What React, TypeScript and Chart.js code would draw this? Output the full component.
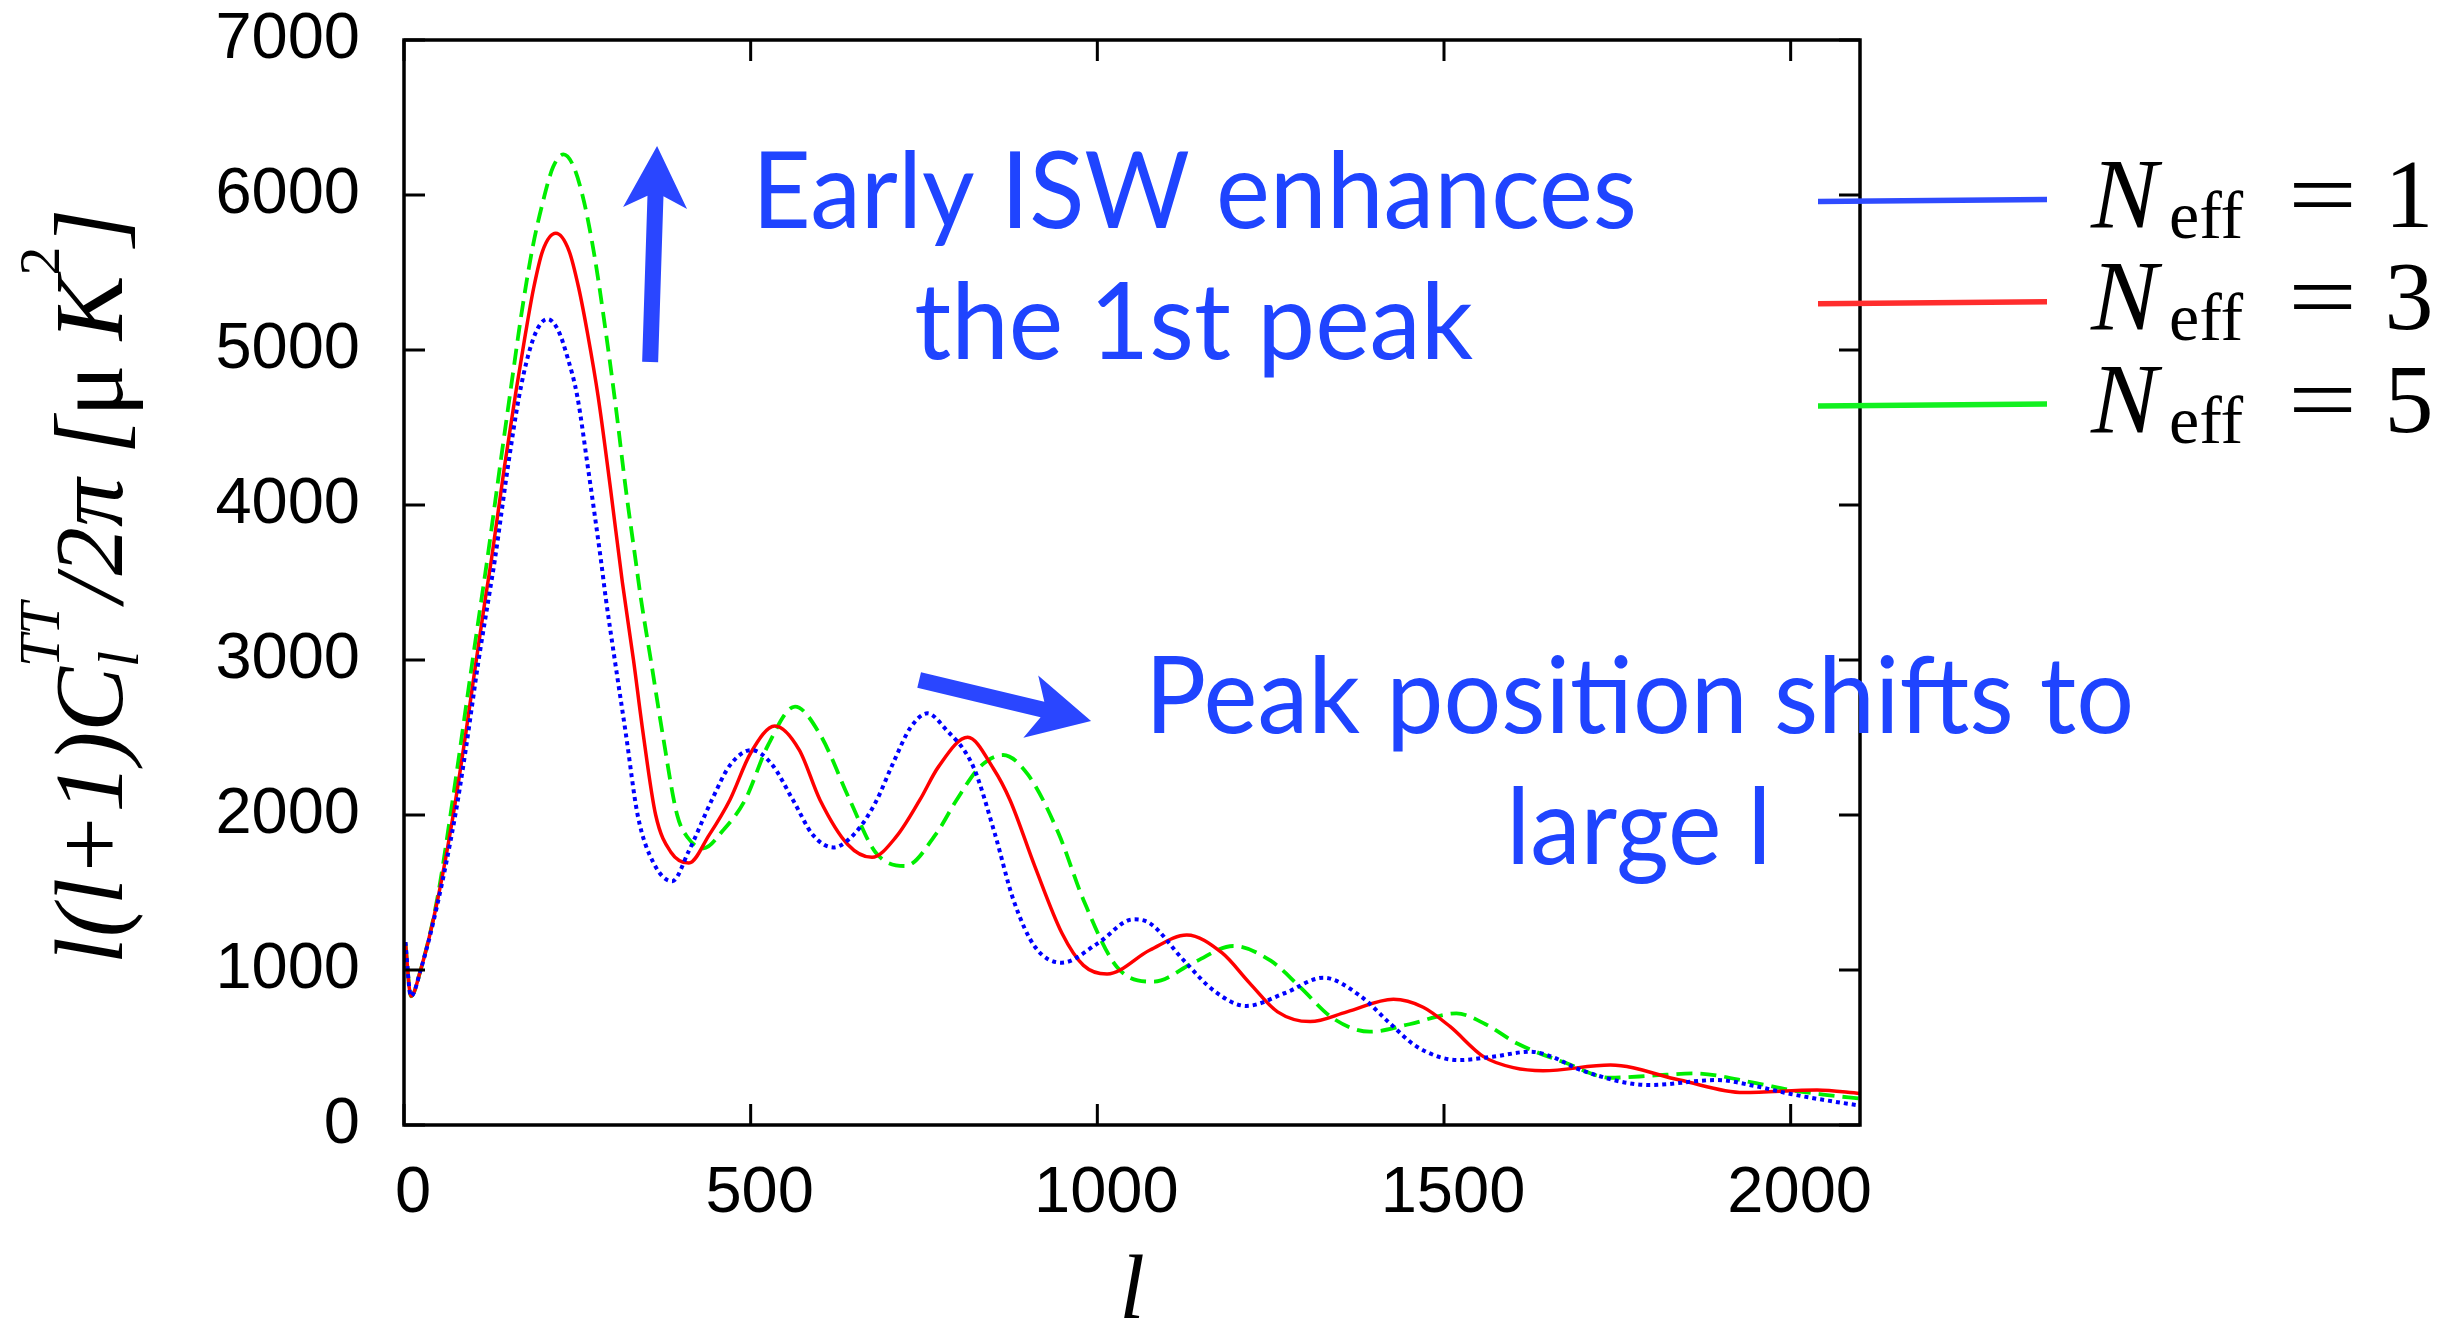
import React, { useEffect, useRef } from 'react';
import { Chart, registerables } from 'chart.js';

Chart.register(...registerables);

// ---------- data ----------
// multipole l and l(l+1)C_l/2pi [uK^2]
const L_NEFF1 = [2, 10, 24, 48, 74, 89, 107, 124, 131, 150, 166, 180, 193, 207, 222, 236, 250, 265, 284, 291, 304, 320, 337, 360, 387, 410, 444, 470, 501, 530, 561, 590, 619, 650, 680, 705, 730, 755, 780, 821, 852, 879, 910, 949, 1000, 1052, 1076, 1124, 1170, 1215, 1270, 1326, 1380, 1422, 1461, 1521, 1570, 1624, 1653, 1700, 1797, 1893, 1950, 2000, 2050, 2100];
const CL_NEFF1 = [1180, 830, 1000, 1420, 2000, 2420, 2980, 3450, 3645, 4250, 4700, 4980, 5140, 5200, 5130, 4950, 4700, 4250, 3645, 3400, 3000, 2523, 2000, 1690, 1573, 1760, 2097, 2320, 2419, 2330, 2097, 1870, 1791, 1880, 2080, 2330, 2560, 2656, 2560, 2312, 1882, 1452, 1150, 1047, 1170, 1327, 1301, 1065, 860, 768, 850, 950, 830, 656, 505, 419, 440, 473, 445, 350, 258, 290, 250, 200, 160, 125];

const L_NEFF3 = [2, 10, 24, 48, 71, 89, 102, 117, 126, 145, 161, 175, 187, 200, 219, 238, 252, 265, 280, 298, 315, 331, 345, 363, 385, 411, 440, 470, 500, 535, 570, 600, 640, 675, 710, 744, 771, 813, 850, 874, 910, 949, 980, 1014, 1076, 1129, 1180, 1220, 1260, 1307, 1360, 1427, 1470, 1509, 1557, 1600, 1643, 1740, 1840, 1932, 2038, 2100];
const CL_NEFF3 = [1180, 830, 1000, 1443, 2000, 2523, 2930, 3387, 3645, 4250, 4720, 5100, 5400, 5640, 5753, 5640, 5400, 5100, 4700, 4100, 3500, 3000, 2523, 2000, 1760, 1690, 1870, 2097, 2400, 2574, 2420, 2097, 1810, 1727, 1860, 2097, 2312, 2501, 2300, 2097, 1667, 1237, 1030, 974, 1129, 1226, 1110, 914, 730, 667, 730, 811, 760, 634, 441, 370, 350, 387, 290, 209, 226, 204];

const L_NEFF5 = [2, 10, 24, 48, 67, 99, 113, 120, 140, 155, 170, 185, 200, 215, 230, 245, 260, 275, 290, 305, 320, 334, 342, 356, 373, 394, 410, 432, 460, 492, 525, 564, 600, 643, 680, 723, 768, 797, 831, 864, 900, 944, 980, 1028, 1081, 1140, 1196, 1250, 1292, 1340, 1393, 1450, 1518, 1560, 1605, 1677, 1740, 1800, 1860, 1950, 2000, 2050, 2100];
const CL_NEFF5 = [1180, 830, 1000, 1460, 2000, 3000, 3430, 3645, 4300, 4780, 5250, 5650, 5950, 6180, 6262, 6180, 5950, 5600, 5150, 4650, 4100, 3645, 3387, 3000, 2523, 2000, 1850, 1785, 1900, 2097, 2450, 2699, 2520, 2097, 1760, 1671, 1882, 2097, 2312, 2387, 2260, 1882, 1452, 1021, 925, 1050, 1155, 1060, 892, 688, 602, 650, 720, 650, 527, 398, 305, 318, 333, 270, 225, 195, 170];

const SERIES_LABELS = ['1', '3', '5'];
const X_TICKS = [0, 500, 1000, 1500, 2000];
const Y_TICKS = [0, 1000, 2000, 3000, 4000, 5000, 6000, 7000];
const X_MIN = 0;
const X_MAX = 2100;
const Y_MIN = 0;
const Y_MAX = 7000;

// annotation anchors in data coordinates [l, value]
const NOTE_LINES = [
  { text: 'Early ISW enhances', at: [1140, 5787], width: 885 },
  { text: 'the 1st peak', at: [1139, 4942], width: 559 },
  { text: 'Peak position shifts to', at: [1782, 2529], width: 989 },
  { text: 'large l', at: [1781, 1681], width: 265 },
];
const ARROWS = [
  { from: [355, 4923], to: [365, 6316] },
  { from: [743, 2871], to: [991, 2606] },
];

// ---------- styles ----------
const SANS = '"Liberation Sans", Arial, Helvetica, sans-serif';
const SERIF = '"Liberation Serif", "Times New Roman", "DejaVu Serif", serif';
const NOTE_FONT = 'Lato, "Open Sans", "Noto Sans", sans-serif';
const NOTE_COLOR = '#1f44ff';
const ARROW_COLOR = '#2a46ff';
const LINE_COLORS = ['#0000ff', '#ff0000', '#00ee00'];
const LEGEND_COLORS = ['#2f4bff', '#ff2d2d', '#12f020'];
const TICK_LEN = 21;

function drawArrow(ctx: CanvasRenderingContext2D, x0: number, y0: number, x1: number, y1: number) {
  const dx = x1 - x0;
  const dy = y1 - y0;
  const len = Math.hypot(dx, dy);
  const ux = dx / len;
  const uy = dy / len;
  const px = -uy;
  const py = ux;
  const shaftHalf = 8;
  const headLen = 62;
  const notch = 12;
  const headHalf = 32;
  const P = (a: number, b: number) => [x0 + ux * a + px * b, y0 + uy * a + py * b];
  const pts = [
    P(0, -shaftHalf),
    P(len - headLen + notch, -shaftHalf),
    P(len - headLen, -headHalf),
    P(len, 0),
    P(len - headLen, headHalf),
    P(len - headLen + notch, shaftHalf),
    P(0, shaftHalf),
  ];
  ctx.beginPath();
  ctx.moveTo(pts[0][0], pts[0][1]);
  for (let i = 1; i < pts.length; i++) ctx.lineTo(pts[i][0], pts[i][1]);
  ctx.closePath();
  ctx.fillStyle = ARROW_COLOR;
  ctx.fill();
}

type Part = { t: string; f: string; dy: number } | { stack: { t: string; f: string; dy: number }[] };

function drawYTitle(ctx: CanvasRenderingContext2D, bx: number, cy: number) {
  const S = 97;
  const s = Math.round(S * 0.6);
  const it = `italic ${S}px ${SERIF}`;
  const up = `${S}px ${SERIF}`;
  const itS = `italic ${s}px ${SERIF}`;
  const upS = `${s}px ${SERIF}`;
  const raise = 63;
  const lower = 16;
  const parts: Part[] = [
    { t: 'l(l+1)', f: it, dy: 0 },
    { t: 'C', f: it, dy: 0 },
    { stack: [{ t: 'TT', f: itS, dy: -raise }, { t: 'l', f: itS, dy: lower }] },
    { t: '/2π', f: it, dy: 0 },
    { t: ' [', f: it, dy: 0 },
    { t: 'μ', f: up, dy: 0 },
    { t: ' K', f: it, dy: 0 },
    { t: '2', f: upS, dy: -raise },
    { t: ']', f: it, dy: 0 },
  ];
  const widths = parts.map((p) => {
    if ('stack' in p) {
      return Math.max(...p.stack.map((q) => { ctx.font = q.f; return ctx.measureText(q.t).width; }));
    }
    ctx.font = p.f;
    return ctx.measureText(p.t).width;
  });
  const total = widths.reduce((a, b) => a + b, 0);
  ctx.save();
  ctx.translate(bx, cy);
  ctx.rotate(-Math.PI / 2);
  ctx.fillStyle = '#000';
  ctx.textBaseline = 'alphabetic';
  ctx.textAlign = 'left';
  let u = -total / 2;
  parts.forEach((p, i) => {
    if ('stack' in p) {
      p.stack.forEach((q) => { ctx.font = q.f; ctx.fillText(q.t, u, q.dy); });
    } else {
      ctx.font = p.f;
      ctx.fillText(p.t, u, p.dy);
    }
    u += widths[i];
  });
  ctx.restore();
}

const decorPlugin = {
  id: 'decor',
  afterDatasetsDraw(chart: any) {
    const { ctx, chartArea: a, scales } = chart;
    const xs = scales.x;
    const ys = scales.y;
    ctx.save();
    ctx.strokeStyle = '#000';
    ctx.lineWidth = 3.5;
    ctx.strokeRect(a.left, a.top, a.right - a.left, a.bottom - a.top);
    ctx.lineWidth = 3;
    ctx.beginPath();
    for (const v of Y_TICKS) {
      const py = ys.getPixelForValue(v);
      ctx.moveTo(a.left, py); ctx.lineTo(a.left + TICK_LEN, py);
      ctx.moveTo(a.right, py); ctx.lineTo(a.right - TICK_LEN, py);
    }
    for (const v of X_TICKS) {
      const px = xs.getPixelForValue(v);
      ctx.moveTo(px, a.bottom); ctx.lineTo(px, a.bottom - TICK_LEN);
      ctx.moveTo(px, a.top); ctx.lineTo(px, a.top + TICK_LEN);
    }
    ctx.stroke();
    ctx.restore();
  },
  afterDraw(chart: any) {
    const { ctx, chartArea: a, scales } = chart;
    const xs = scales.x;
    const ys = scales.y;
    ctx.save();

    // axis titles
    drawYTitle(ctx, 122, (a.top + a.bottom) / 2 + 4);
    ctx.font = `italic 92px ${SERIF}`;
    ctx.fillStyle = '#000';
    ctx.textAlign = 'center';
    ctx.textBaseline = 'alphabetic';
    ctx.fillText('l', (a.left + a.right) / 2, 1318);

    // annotation arrows
    for (const ar of ARROWS) {
      drawArrow(ctx, xs.getPixelForValue(ar.from[0]), ys.getPixelForValue(ar.from[1]),
        xs.getPixelForValue(ar.to[0]), ys.getPixelForValue(ar.to[1]));
    }
    // annotation text
    ctx.fillStyle = NOTE_COLOR;
    ctx.font = `107px ${NOTE_FONT}`;
    ctx.textAlign = 'center';
    for (const n of NOTE_LINES) {
      const w = ctx.measureText(n.text).width;
      const sx = Math.max(0.75, Math.min(1.3, n.width / w));
      ctx.save();
      ctx.translate(xs.getPixelForValue(n.at[0]), ys.getPixelForValue(n.at[1]));
      ctx.scale(sx, 1);
      ctx.fillText(n.text, 0, 0);
      ctx.restore();
    }

    // legend
    const lx0 = a.right - 42;
    const lx1 = a.right + 187;
    const tx = a.right + 235;
    SERIES_LABELS.forEach((lab, i) => {
      const yy = a.top + 160.5 + i * 102.3;
      ctx.strokeStyle = LEGEND_COLORS[i];
      ctx.lineWidth = 5.5;
      ctx.beginPath();
      ctx.moveTo(lx0, yy + 1);
      ctx.lineTo(lx1, yy - 1);
      ctx.stroke();
      const base = yy + 26.5;
      ctx.fillStyle = '#000';
      ctx.textAlign = 'left';
      ctx.font = `italic 100px ${SERIF}`;
      ctx.fillText('N', tx - 4, base);
      ctx.font = `68px ${SERIF}`;
      ctx.fillText('eff', tx + 74, base + 11);
      ctx.font = `98px ${SERIF}`;
      ctx.save();
      ctx.translate(tx + 193, base);
      ctx.scale(1.25, 1);
      ctx.fillText('=', 0, 0);
      ctx.restore();
      ctx.textAlign = 'center';
      ctx.fillText(lab, tx + 314, base);
    });
    ctx.restore();
  },
};

export default function App() {
  const ref = useRef<HTMLCanvasElement | null>(null);
  useEffect(() => {
    if (!ref.current) return;
    const mk = (ls: number[], vs: number[]) => ls.map((l, i) => ({ x: l, y: vs[i] }));
    const tickFont = { family: SANS, size: 65 };
    const chart = new Chart(ref.current, {
      type: 'line',
      data: {
        datasets: [
          {
            label: 'N_eff = 1', data: mk(L_NEFF1, CL_NEFF1), borderColor: LINE_COLORS[0], borderWidth: 4,
            borderDash: [4, 4], pointRadius: 0, cubicInterpolationMode: 'monotone', fill: false,
          },
          {
            label: 'N_eff = 3', data: mk(L_NEFF3, CL_NEFF3), borderColor: LINE_COLORS[1], borderWidth: 3.5,
            pointRadius: 0, cubicInterpolationMode: 'monotone', fill: false,
          },
          {
            label: 'N_eff = 5', data: mk(L_NEFF5, CL_NEFF5), borderColor: LINE_COLORS[2], borderWidth: 3.8,
            borderDash: [16, 8], pointRadius: 0, cubicInterpolationMode: 'monotone', fill: false,
          },
        ],
      } as any,
      options: {
        responsive: false,
        animation: false,
        devicePixelRatio: 1,
        layout: { padding: { left: 0, right: 597, top: 40, bottom: 0 } },
        plugins: { legend: { display: false }, tooltip: { enabled: false } },
        scales: {
          x: {
            type: 'linear', min: X_MIN, max: X_MAX,
            afterFit: (s: any) => { s.height = 200; s.paddingLeft = 0; s.paddingRight = 0; },
            afterBuildTicks: (s: any) => { s.ticks = X_TICKS.map((v) => ({ value: v })); },
            ticks: {
              font: tickFont, color: '#000', padding: 30, labelOffset: 9, maxRotation: 0, autoSkip: false,
              callback: (v: any) => String(v),
            },
            grid: { display: false, drawTicks: false },
            border: { display: false },
          },
          y: {
            type: 'linear', min: Y_MIN, max: Y_MAX,
            afterFit: (s: any) => { s.width = 404; s.paddingTop = 0; s.paddingBottom = 0; },
            afterBuildTicks: (s: any) => { s.ticks = Y_TICKS.map((v) => ({ value: v })); },
            ticks: { font: tickFont, color: '#000', padding: 44, autoSkip: false, callback: (v: any) => String(v) },
            grid: { display: false, drawTicks: false },
            border: { display: false },
          },
        },
      } as any,
      plugins: [decorPlugin],
    });
    return () => chart.destroy();
  }, []);
  return (
    <div style={{ position: 'absolute', left: 0, top: 0, width: 2457, height: 1325, background: '#fff' }}>
      <canvas ref={ref} width={2457} height={1325} style={{ display: 'block' }} />
    </div>
  );
}
